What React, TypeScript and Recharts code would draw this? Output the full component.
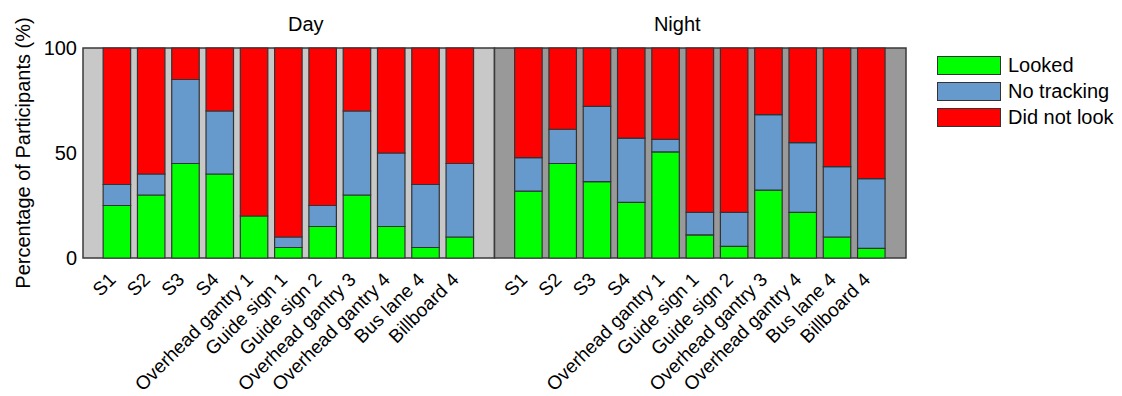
import React from 'react';
import { BarChart, Bar, XAxis, YAxis, ReferenceArea, Legend } from 'recharts';

const categories = ['S1', 'S2', 'S3', 'S4', 'Overhead gantry 1', 'Guide sign 1', 'Guide sign 2', 'Overhead gantry 3', 'Overhead gantry 4', 'Bus lane 4', 'Billboard 4'];
const dayLooked = [25, 30, 45, 40, 20, 5, 15, 30, 15, 5, 10];
const dayNoTracking = [10, 10, 40, 30, 0, 5, 10, 40, 35, 30, 35];
const dayDidNotLook = [65, 60, 15, 30, 80, 90, 75, 30, 50, 65, 55];
const nightLooked = [31.8, 45, 36.4, 26.5, 50.5, 11, 5.5, 32.3, 21.7, 10, 4.6];
const nightNoTracking = [16, 16.3, 35.8, 30.6, 6, 10.7, 16.2, 36, 33.2, 33.5, 33.2];
const nightDidNotLook = [52.2, 38.7, 27.8, 42.9, 43.5, 78.3, 78.3, 31.7, 45.1, 56.5, 62.2];
const yTicks = [0, 50, 100];
const panelTitles = ['Day', 'Night'];
const seriesNames = ['Looked', 'No tracking', 'Did not look'];

const COLORS = { looked: '#00ff00', noTracking: '#6699cc', didNotLook: '#ff0000' };
const FONT = '"Liberation Sans", Arial, sans-serif';

type Row = { x: number; label: string; looked: number; noTracking: number; didNotLook: number };
const data: Row[] = [
  ...categories.map((c, i) => ({ x: i + 1, label: c, looked: dayLooked[i], noTracking: dayNoTracking[i], didNotLook: dayDidNotLook[i] })),
  ...categories.map((c, i) => ({ x: i + 13, label: c, looked: nightLooked[i], noTracking: nightNoTracking[i], didNotLook: nightDidNotLook[i] })),
];
const xTicks = data.map((d) => d.x);
const labelOf: Record<number, string> = {};
data.forEach((d) => { labelOf[d.x] = d.label; });

const XTick = (props: any) => {
  const { x, y, payload } = props;
  const ax = x - 5;
  const ay = y + 18;
  return (
    <text x={ax} y={ay} dy="0.35em" textAnchor="end" transform={`rotate(-45 ${ax} ${ay})`} fontSize={19} fontFamily={FONT} fill="#000">
      {labelOf[payload.value]}
    </text>
  );
};

const makeTitle = (text: string, dx: number) => (props: any) => {
  const vb = props.viewBox || {};
  return (
    <text x={vb.x + vb.width / 2 + dx} y={vb.y - 17} textAnchor="middle" fontSize={20} fontFamily={FONT} fill="#000">
      {text}
    </text>
  );
};

const LegendContent = () => {
  const cols = [COLORS.looked, COLORS.noTracking, COLORS.didNotLook];
  return (
    <div style={{ fontFamily: FONT, fontSize: 20, color: '#000' }}>
      {seriesNames.map((n, i) => (
        <div key={n} style={{ display: 'flex', alignItems: 'center', height: 26 }}>
          <div style={{ width: 62, height: 17, background: cols[i], border: '1px solid #333', marginRight: 7 }} />
          <span style={{ lineHeight: '20px' }}>{n}</span>
        </div>
      ))}
    </div>
  );
};

export default function App() {
  return (
    <div style={{ position: 'absolute', left: 0, top: 0, width: 1122, height: 396, background: '#fff' }}>
      <BarChart width={1122} height={396} data={data} margin={{ top: 48, right: 216, bottom: 108, left: 0 }}>
        <ReferenceArea x1={0} x2={12} y1={0} y2={100} fill="#c8c8c8" fillOpacity={1} stroke="#3a3a3a" strokeWidth={1.5} ifOverflow="visible" label={{ content: makeTitle(panelTitles[0], 17) }} />
        <ReferenceArea x1={12} x2={24} y1={0} y2={100} fill="#999999" fillOpacity={1} stroke="#3a3a3a" strokeWidth={1.5} ifOverflow="visible" label={{ content: makeTitle(panelTitles[1], -23) }} />
        <XAxis type="number" dataKey="x" domain={[0, 24]} ticks={xTicks} interval={0} tick={<XTick />} tickLine={false} axisLine={false} tickSize={0} tickMargin={0} height={30} allowDecimals={false} />
        <YAxis type="number" domain={[0, 100]} ticks={yTicks} width={83} tickLine={false} axisLine={false} tickSize={4} tickMargin={2}
          tick={{ fontSize: 20, fontFamily: FONT, fill: '#000' }}
          label={{ content: (p: any) => {
            const vb = p.viewBox || {};
            const cx = 23;
            const cy = vb.y + vb.height / 2;
            return (
              <text x={cx} y={cy} dy="0.35em" textAnchor="middle" transform={`rotate(-90 ${cx} ${cy})`} fontSize={20} fontFamily={FONT} fill="#000">
                Percentage of Participants (%)
              </text>
            );
          } }} />
        <Bar dataKey="looked" name={seriesNames[0]} stackId="a" fill={COLORS.looked} stroke="#333" strokeWidth={1.2} barSize={27.5} isAnimationActive={false} />
        <Bar dataKey="noTracking" name={seriesNames[1]} stackId="a" fill={COLORS.noTracking} stroke="#333" strokeWidth={1.2} barSize={27.5} isAnimationActive={false} />
        <Bar dataKey="didNotLook" name={seriesNames[2]} stackId="a" fill={COLORS.didNotLook} stroke="#333" strokeWidth={1.2} barSize={27.5} isAnimationActive={false} />
        <Legend layout="vertical" align="center" verticalAlign="middle" content={<LegendContent />} wrapperStyle={{ position: 'absolute', left: 937, top: 52, width: 185, height: 80 }} />
      </BarChart>
    </div>
  );
}
